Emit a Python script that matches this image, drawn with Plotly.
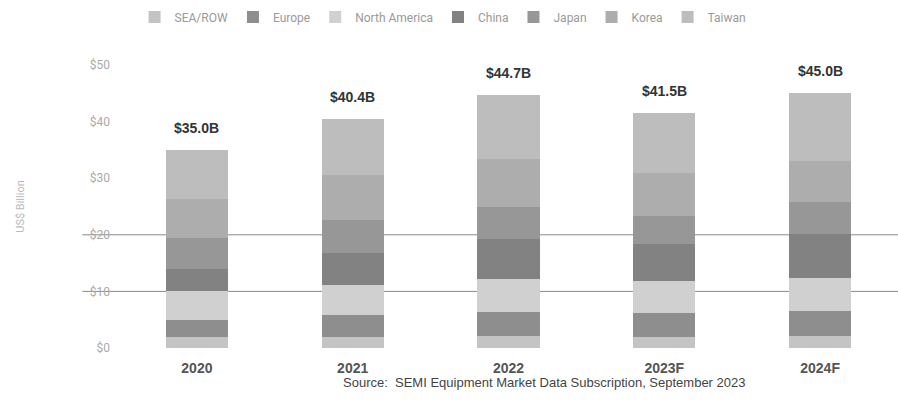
import plotly.graph_objects as go

years = ["2020", "2021", "2022", "2023F", "2024F"]
regions = ["SEA/ROW", "Europe", "North America", "China", "Japan", "Korea", "Taiwan"]
sea_row = [2.0, 2.0, 2.1, 2.0, 2.1]
europe = [3.0, 3.8, 4.2, 4.2, 4.4]
north_america = [5.0, 5.4, 5.9, 5.6, 5.9]
china = [3.9, 5.6, 7.1, 6.5, 7.7]
japan = [5.5, 5.9, 5.7, 5.0, 5.7]
korea = [7.0, 7.8, 8.4, 7.7, 7.2]
taiwan = [8.6, 9.9, 11.3, 10.5, 12.0]
totals = [35.0, 40.4, 44.7, 41.5, 45.0]
total_labels = ["$35.0B", "$40.4B", "$44.7B", "$41.5B", "$45.0B"]
y_ticks = [0, 10, 20, 30, 40, 50]
y_tick_labels = ["$0", "$10", "$20", "$30", "$40", "$50"]
gridline_values = [10, 20]

series = [sea_row, europe, north_america, china, japan, korea, taiwan]
colors = ["#c4c4c4", "#8e8e8e", "#d0d0d0", "#828282", "#979797", "#adadad", "#bdbdbd"]

fig = go.Figure()
for name, vals, col in zip(regions, series, colors):
    fig.add_trace(go.Bar(x=years, y=vals, name=name, marker=dict(color=col, line=dict(width=0))))

for i, (tot, lab) in enumerate(zip(totals, total_labels)):
    fig.add_annotation(x=i, y=tot, text="<b>" + lab + "</b>", showarrow=False,
                       yshift=22, font=dict(family="Liberation Sans", size=14, color="#333333"))

for g in gridline_values:
    fig.add_shape(type="line", xref="paper", yref="y", x0=-0.047, x1=1.0, y0=g, y1=g,
                  line=dict(color="#8a8a8a", width=1), layer="below")

fig.add_annotation(xref="paper", yref="paper", x=0.545, y=-0.09, xanchor="center", yanchor="top",
                   text="Source:  SEMI Equipment Market Data Subscription, September 2023",
                   showarrow=False, font=dict(family="Liberation Sans", size=13, color="#444444"))

fig.update_layout(
    barmode="stack",
    bargap=0.6,
    width=898, height=405,
    margin=dict(l=119, r=0, t=65, b=57),
    plot_bgcolor="white", paper_bgcolor="white",
    legend=dict(orientation="h", x=0.02, y=1.17, xanchor="left", yanchor="middle",
                font=dict(family="Roboto", size=12, color="#9a9a9a"), traceorder="normal",
                itemsizing="constant"),
    xaxis=dict(type="category", range=[-0.5, 4.5], showgrid=False, showline=False, ticks="",
               ticklabelstandoff=10,
               tickfont=dict(family="Liberation Sans", size=14, color="#555555", weight="bold")),
    yaxis=dict(range=[0, 50], tickvals=y_ticks, ticktext=y_tick_labels, showgrid=False, zeroline=False,
               tickfont=dict(family="Roboto", size=12, color="#aaaaaa"), ticklabelstandoff=8,
               title=dict(text="US$ Billion", font=dict(family="Roboto", size=11, color="#bbbbbb"), standoff=62)),
)

fig.write_html("out.html")
